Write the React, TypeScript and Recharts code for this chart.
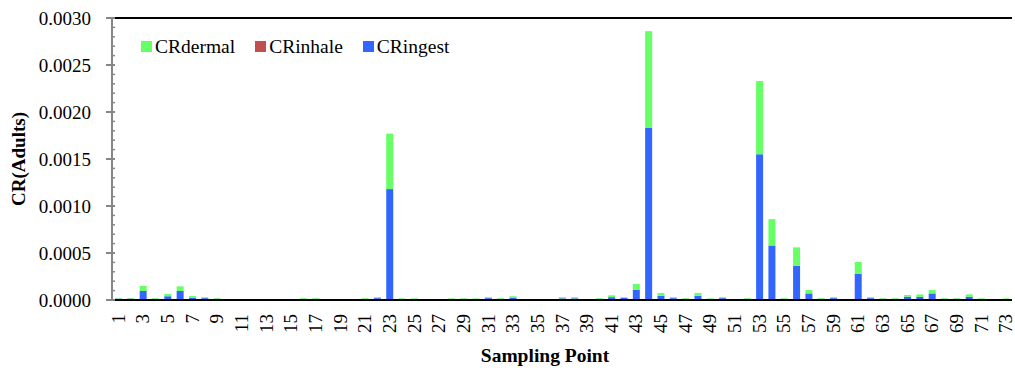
import React from 'react';
import { BarChart, Bar, XAxis, YAxis, Legend, ReferenceLine, Label } from 'recharts';

// sampling points 1..73
const points = [
  1, 2, 3, 4, 5, 6, 7, 8, 9, 10, 11, 12, 13, 14, 15, 16, 17, 18, 19, 20,
  21, 22, 23, 24, 25, 26, 27, 28, 29, 30, 31, 32, 33, 34, 35, 36, 37, 38, 39, 40,
  41, 42, 43, 44, 45, 46, 47, 48, 49, 50, 51, 52, 53, 54, 55, 56, 57, 58, 59, 60,
  61, 62, 63, 64, 65, 66, 67, 68, 69, 70, 71, 72, 73,
];

const crIngest = [
  0.000015, 0.000015, 0.000096, 0.000013, 0.00004, 0.000096, 0.000025, 0.00002, 0.000013, 0.000003,
  0.000003, 0.000003, 0.000003, 0.000003, 0.000006, 0.000012, 0.000012, 0.000004, 0.000003, 0.000004,
  0.000012, 0.00002, 0.00118, 0.000011, 0.000011, 0.000003, 0.000003, 0.000011, 0.000011, 0.000011,
  0.00002, 0.000013, 0.000026, 0.000006, 0.000003, 0.000006, 0.000018, 0.000018, 0.000003, 0.000013,
  0.00003, 0.000022, 0.00011, 0.00183, 0.000046, 0.00002, 0.000013, 0.000046, 0.000011, 0.00002,
  0.000006, 0.000013, 0.00155, 0.00058, 0.000013, 0.000365, 0.00007, 0.000013, 0.00002, 0.000006,
  0.000277, 0.00002, 0.000013, 0.000013, 0.000035, 0.000035, 0.00007, 0.000013, 0.000013, 0.000035,
  0.000011, 0.000006, 0.000011,
];

const crInhale = [
  1e-9, 1e-9, 5e-9, 1e-9, 2e-9, 5e-9, 1e-9, 1e-9, 1e-9, 1e-9,
  1e-9, 1e-9, 1e-9, 1e-9, 1e-9, 1e-9, 1e-9, 1e-9, 1e-9, 1e-9,
  1e-9, 1e-9, 6e-8, 1e-9, 1e-9, 1e-9, 1e-9, 1e-9, 1e-9, 1e-9,
  1e-9, 1e-9, 1e-9, 1e-9, 1e-9, 1e-9, 1e-9, 1e-9, 1e-9, 1e-9,
  1e-9, 1e-9, 6e-9, 9e-8, 2e-9, 1e-9, 1e-9, 2e-9, 1e-9, 1e-9,
  1e-9, 1e-9, 8e-8, 3e-8, 1e-9, 2e-8, 4e-9, 1e-9, 1e-9, 1e-9,
  1e-8, 1e-9, 1e-9, 1e-9, 2e-9, 2e-9, 4e-9, 1e-9, 1e-9, 2e-9,
  1e-9, 1e-9, 1e-9,
];

const crDermal = [
  0.000005, 0.000005, 0.000054, 0.000007, 0.000024, 0.000049, 0.000018, 0.00001, 0.000007, 0.000002,
  0.000001, 0.000002, 0.000002, 0.000002, 0.000004, 0.000008, 0.000008, 0.000002, 0.000002, 0.000002,
  0.000008, 0.00001, 0.00059, 0.000007, 0.000007, 0.000002, 0.000002, 0.000007, 0.000007, 0.000007,
  0.00001, 0.000007, 0.000014, 0.000004, 0.000002, 0.000004, 0.000012, 0.000012, 0.000002, 0.000007,
  0.00002, 0.000008, 0.00006, 0.00103, 0.000029, 0.00001, 0.000007, 0.000029, 0.000007, 0.00001,
  0.000004, 0.000007, 0.00078, 0.00028, 0.000007, 0.000195, 0.000036, 0.000007, 0.00001, 0.000004,
  0.000127, 0.00001, 0.000007, 0.000007, 0.000018, 0.000025, 0.000036, 0.000007, 0.000007, 0.000025,
  0.000007, 0.000004, 0.000007,
];

const data = points.map((p, i) => ({
  point: String(p),
  CRingest: crIngest[i],
  CRinhale: crInhale[i],
  CRdermal: crDermal[i],
}));

const yTicks = Array.from({ length: 31 }, (_, i) => Number((i * 0.0001).toFixed(4)));

const legendItems = [
  { name: 'CRdermal', color: '#66FF66' },
  { name: 'CRinhale', color: '#C0504D' },
  { name: 'CRingest', color: '#3366FF' },
];

const FONT = '"Liberation Serif", "Times New Roman", serif';

const YTick = (props: any) => {
  const { x, y, payload } = props;
  const idx = Math.round(payload.value / 0.0001);
  const major = idx % 5 === 0;
  return (
    <g>
      {major ? (
        <>
          <line x1={x - 6} x2={x + 3} y1={y} y2={y} stroke="#868686" strokeWidth={2} />
          <text x={x - 21} y={y} textAnchor="end" dominantBaseline="central" fontSize={19} fontFamily={FONT} fill="#000">
            {payload.value.toFixed(4)}
          </text>
        </>
      ) : (
        <line x1={x} x2={x + 3} y1={y} y2={y} stroke="#868686" strokeWidth={1.5} />
      )}
    </g>
  );
};

const XTick = (props: any) => {
  const { x, y, payload } = props;
  return (
    <text
      x={x}
      y={y + 6}
      transform={`rotate(-90, ${x}, ${y + 6})`}
      textAnchor="end"
      dominantBaseline="central"
      fontSize={19}
      fontFamily={FONT}
      fill="#000"
    >
      {payload.value}
    </text>
  );
};

const renderLegend = () => (
  <div style={{ display: 'flex', fontFamily: FONT, fontSize: 19.5, color: '#000', lineHeight: 1 }}>
    {legendItems.map((it) => (
      <div key={it.name} style={{ display: 'flex', alignItems: 'center', marginRight: 20 }}>
        <span style={{ width: 11, height: 11, background: it.color, display: 'inline-block', marginRight: 3 }} />
        <span>{it.name}</span>
      </div>
    ))}
  </div>
);

export default function App() {
  return (
    <div style={{ position: 'absolute', left: 0, top: 0, background: '#fff' }}>
      <BarChart
        width={1015}
        height={368}
        data={data}
        margin={{ top: 18, right: 3, left: 0, bottom: 0 }}
        barSize={7}
      >
        <XAxis
          dataKey="point"
          interval={1}
          tick={<XTick />}
          tickLine={false}
          axisLine={{ stroke: '#000', strokeWidth: 2 }}
          height={68}
        >
          <Label
            value="Sampling Point"
            position="insideBottom"
            offset={6}
            dx={-17}
            style={{ fontFamily: FONT, fontSize: 19.5, fontWeight: 'bold', fill: '#000' }}
          />
        </XAxis>
        <YAxis
          domain={[0, 0.003]}
          ticks={yTicks}
          interval={0}
          width={112}
          tickSize={0}
          tickMargin={0}
          tickLine={false}
          tick={<YTick />}
          axisLine={{ stroke: '#868686', strokeWidth: 2 }}
        >
          <Label
            value="CR(Adults)"
            angle={-90}
            position="insideLeft"
            offset={18}
            style={{ textAnchor: 'middle', fontFamily: FONT, fontSize: 19, fontWeight: 'bold', fill: '#000' }}
          />
        </YAxis>
        <ReferenceLine y={0.003} stroke="#000" strokeWidth={2} />
        <Legend layout="horizontal" verticalAlign="middle" align="center" content={renderLegend} wrapperStyle={{ top: 37, left: 141, width: 'auto' }} />
        <Bar dataKey="CRingest" stackId="cr" fill="#3366FF" isAnimationActive={false} />
        <Bar dataKey="CRinhale" stackId="cr" fill="#C0504D" isAnimationActive={false} />
        <Bar dataKey="CRdermal" stackId="cr" fill="#66FF66" isAnimationActive={false} />
      </BarChart>
    </div>
  );
}
